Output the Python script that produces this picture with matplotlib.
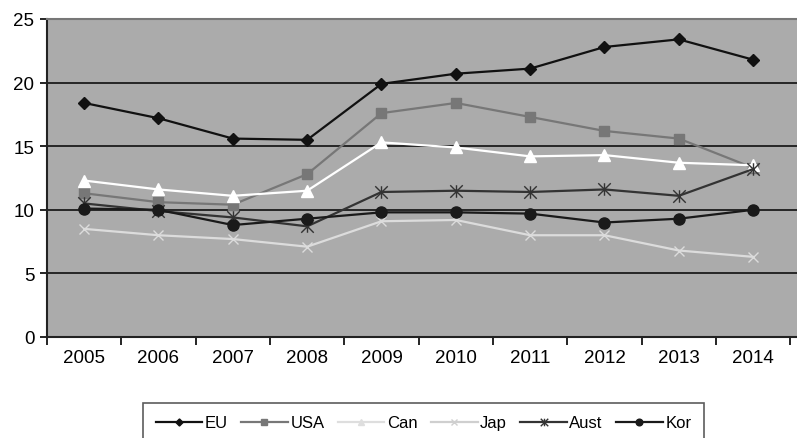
import matplotlib
matplotlib.use("Agg")
import matplotlib.pyplot as plt
from matplotlib.path import Path

plt.rcParams['font.family'] = ['Liberation Sans', 'DejaVu Sans']

years = ['2005', '2006', '2007', '2008', '2009', '2010', '2011', '2012', '2013', '2014']
eu = [18.4, 17.2, 15.6, 15.5, 19.9, 20.7, 21.1, 22.8, 23.4, 21.8]
usa = [11.3, 10.6, 10.4, 12.8, 17.6, 18.4, 17.3, 16.2, 15.6, 13.3]
can = [12.3, 11.6, 11.1, 11.5, 15.3, 14.9, 14.2, 14.3, 13.7, 13.5]
jap = [8.5, 8.0, 7.7, 7.1, 9.1, 9.2, 8.0, 8.0, 6.8, 6.3]
aust = [10.5, 9.9, 9.4, 8.7, 11.4, 11.5, 11.4, 11.6, 11.1, 13.2]
kor = [10.1, 10.0, 8.8, 9.3, 9.8, 9.8, 9.7, 9.0, 9.3, 10.0]

# asterisk marker: x with a vertical bar through it
star = Path([(0, -1), (0, 1), (-1, -1), (1, 1), (-1, 1), (1, -1)],
            [Path.MOVETO, Path.LINETO, Path.MOVETO, Path.LINETO, Path.MOVETO, Path.LINETO])

fig = plt.figure(figsize=(7.97, 4.39), dpi=100)
ax = fig.add_axes([47 / 797, 1 - 338 / 439, 750 / 797, 318 / 439])
ax.set_facecolor('#ababab')

x = list(range(len(years)))
ax.plot(x, eu, color='#111111', lw=1.6, marker='D', ms=6, label='EU', zorder=6)
ax.plot(x, usa, color='#777777', lw=1.6, marker='s', ms=7, label='USA', zorder=3)
ax.plot(x, can, color='#ffffff', lw=1.6, marker='^', ms=8, label='Can', zorder=4)
ax.plot(x, jap, color='#dcdcdc', lw=1.6, marker='x', ms=7, mew=1.0, label='Jap', zorder=3)
ax.plot(x, aust, color='#333333', lw=1.6, marker=star, ms=9, mew=1.0, mfc='none', label='Aust', zorder=4)
ax.plot(x, kor, color='#1a1a1a', lw=1.6, marker='o', ms=8, label='Kor', zorder=5)

ax.set_xlim(-0.5, len(years) - 0.41)
ax.set_ylim(0, 25)
ax.set_yticks([0, 5, 10, 15, 20, 25])
ax.yaxis.grid(True, color='#262626', lw=1.4)
ax.set_axisbelow(True)

ax.set_xticks([i - 0.5 for i in range(len(years) + 1)])
ax.set_xticklabels([])
ax.set_xticks(x, minor=True)
ax.set_xticklabels(years, minor=True)
ax.tick_params(axis='x', which='minor', length=0, pad=9, labelsize=13.5)
ax.tick_params(axis='x', which='major', length=6, direction='out', width=1.2)
ax.tick_params(axis='y', length=5, direction='out', width=1.2, labelsize=13.5, pad=4)

for s in ['left', 'bottom']:
    ax.spines[s].set_color('#222222')
    ax.spines[s].set_linewidth(1.5)
ax.spines['top'].set_color('#777777')
ax.spines['top'].set_linewidth(1.5)
ax.spines['right'].set_visible(False)

leg = fig.legend(loc='upper left', bbox_to_anchor=(143 / 797, 1 - 404 / 439), ncol=6,
                 fontsize=12, frameon=True, fancybox=False, edgecolor='#333333',
                 handlelength=2.8, columnspacing=0.8, handletextpad=0.15,
                 borderpad=0.75, borderaxespad=0, markerscale=0.6)
leg.get_frame().set_linewidth(1.2)
# white and near-white series need a visible tint on the white legend box
for h, c in zip(leg.legend_handles, [None, None, '#dedede', '#cfcfcf', None, None]):
    if c:
        h.set_color(c)

fig.savefig('out.png', dpi=100)
